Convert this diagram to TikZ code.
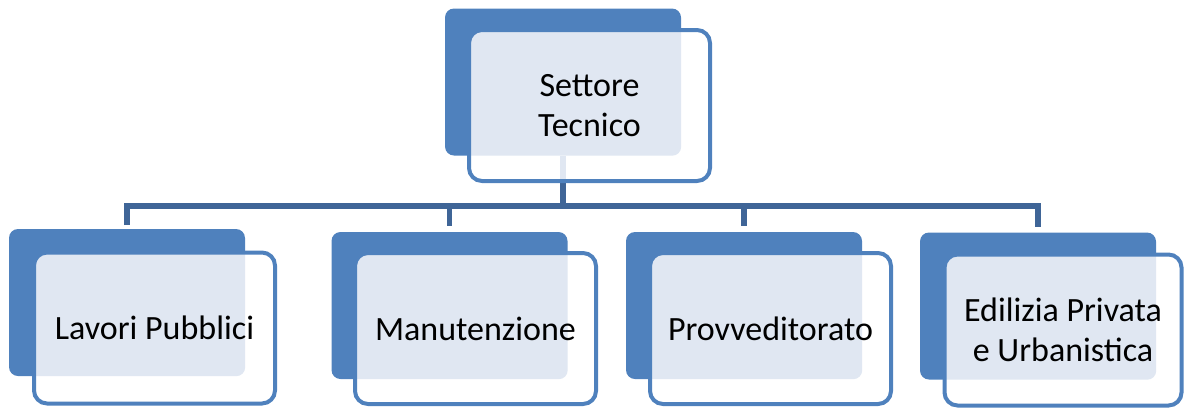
\documentclass[tikz,border=0pt]{standalone}
\usepackage{fontspec}
\setmainfont{Carlito}
\definecolor{accent}{RGB}{79,129,189}
\definecolor{connc}{RGB}{63,101,151}
\definecolor{pale}{RGB}{224,231,242}
\begin{document}
\begin{tikzpicture}[x=1pt,y=-1pt,
  backbox/.style={fill=accent, rounded corners=9pt, minimum width=236pt,
    minimum height=147pt, inner sep=0pt},
  frontbox/.style={draw=accent, line width=4pt, fill=white, rounded corners=13pt,
    minimum width=241pt, minimum height=151pt, inner sep=0pt, align=center,
    font=\fontsize{34}{40}\selectfont},
  overlap/.style={path picture={\fill[pale, rounded corners=9pt] (#1.north west) rectangle (#1.south east);}},
  overlapstem/.style={path picture={\fill[pale, rounded corners=9pt] (#1.north west) rectangle (#1.south east);
    \fill[pale, sharp corners] ([xshift=-3pt]#1.south) rectangle ([xshift=3pt]#1.south |- bus);}},
  conn/.style={draw=connc, line width=5.5pt},
]
\useasboundingbox (0,0) rectangle (1185,408);

% back boxes
\node[backbox] (b0) at (563,82) {};
\node[backbox] (b1) at (127,302.5) {};
\node[backbox] (b2) at (449.5,305.5) {};
\node[backbox] (b3) at (744,305.5) {};
\node[backbox] (b4) at (1038,306) {};

% connectors
\coordinate (bus) at (563,206);
\coordinate (e1) at (127,225);
\coordinate (e2) at (449.5,226);
\coordinate (e3) at (744,226);
\coordinate (e4) at (1038,227);
\draw[conn] (b0.south) -- (bus);
\draw[conn] (e1) |- (bus) -| (e4);
\draw[conn] (b2.north |- bus) -- (e2);
\draw[conn] (b3.north |- bus) -- (e3);

% front boxes
\node[frontbox, overlapstem=b0] (f0) at (589.5,105.5) {Settore\\Tecnico};
\node[frontbox, overlap=b1] (f1) at (154.5,328) {Lavori Pubblici};
\node[frontbox, overlap=b2] (f2) at (475.5,328.5) {Manutenzione};
\node[frontbox, overlap=b3] (f3) at (770.5,328.5) {Provveditorato};
\node[frontbox, overlap=b4, minimum width=237pt] (f4) at (1063,330) {Edilizia Privata\\e Urbanistica};
\end{tikzpicture}
\end{document}
